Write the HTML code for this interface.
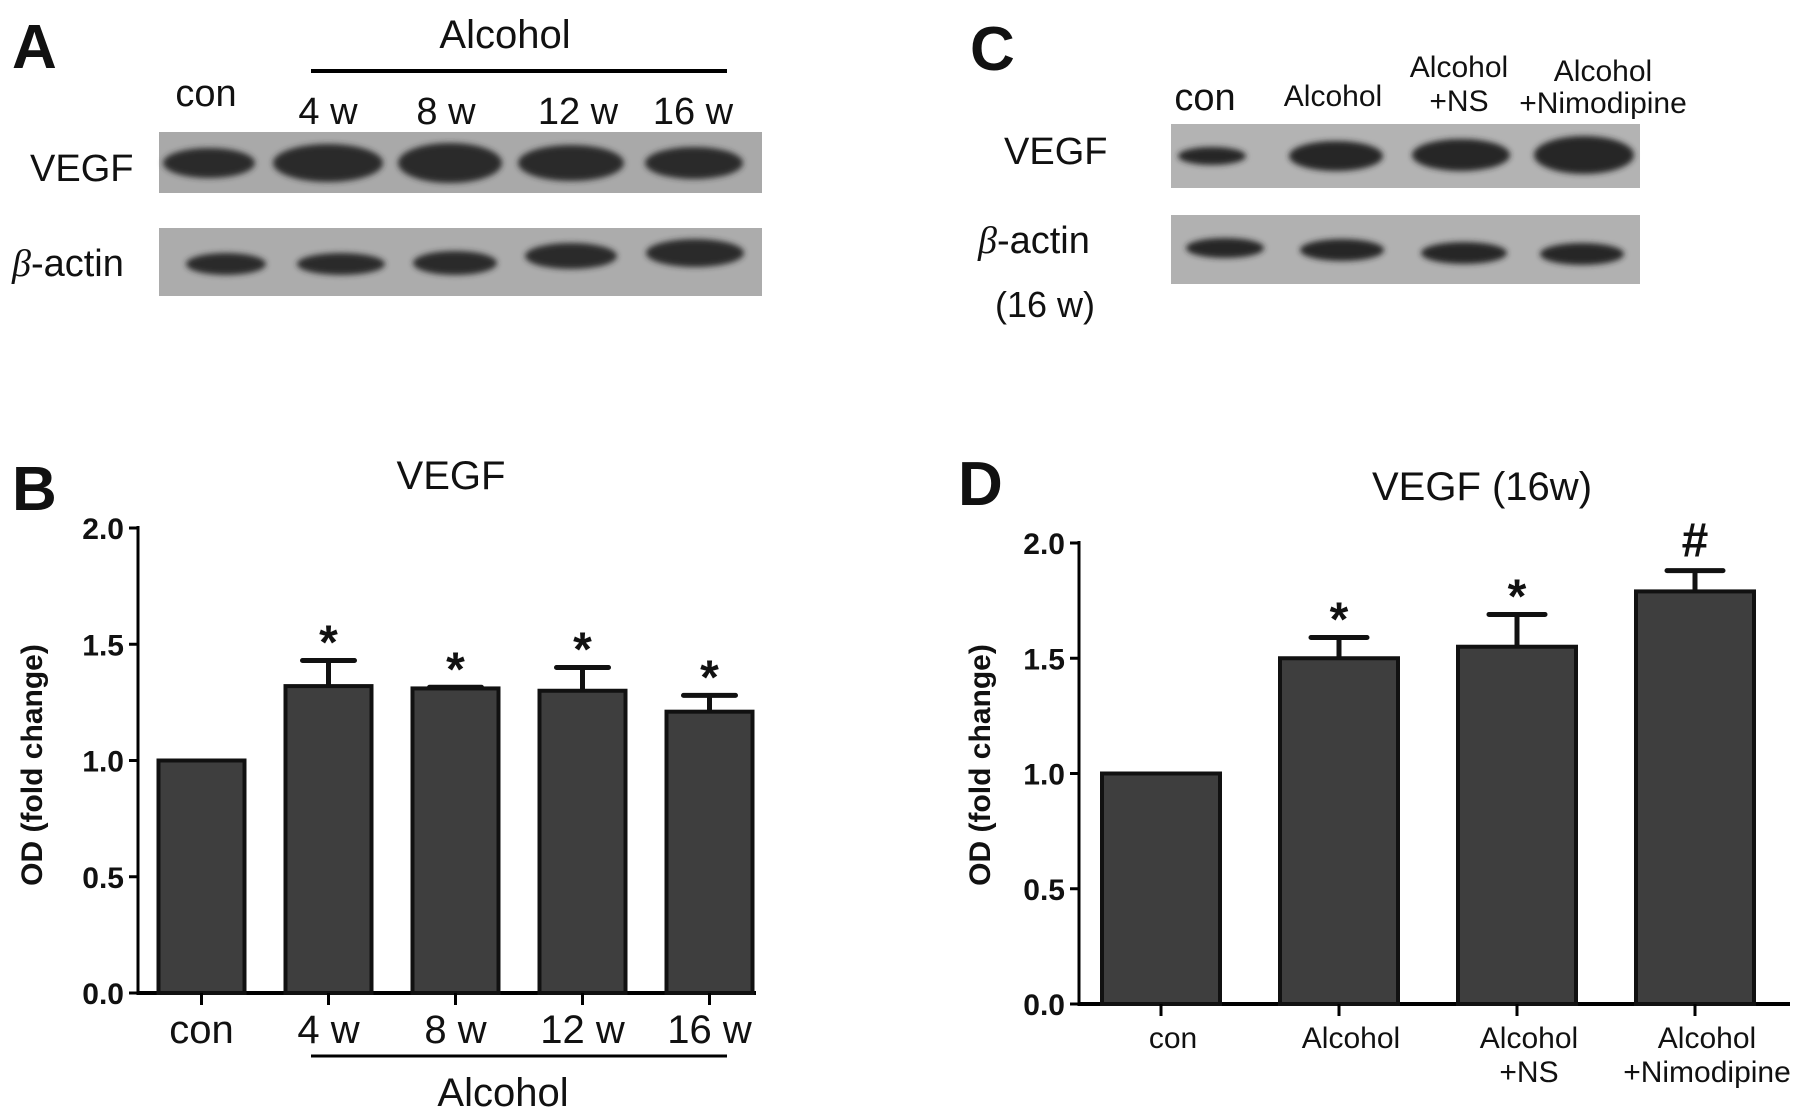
<!DOCTYPE html>
<html><head><meta charset="utf-8"><style>
html,body{margin:0;padding:0;background:#fff;}
svg{display:block;}
text{font-family:"Liberation Sans Narrow","Liberation Sans",sans-serif;fill:#111;}
.b{font-family:"Liberation Sans",sans-serif;font-weight:bold;}
</style></head><body>
<svg id="fig" width="1795" height="1117" viewBox="0 0 1795 1117" xmlns="http://www.w3.org/2000/svg">
<defs>
<filter id="blur" x="-20%" y="-50%" width="140%" height="200%"><feGaussianBlur stdDeviation="3"/></filter>
</defs>
<g>
<text class="b" x="12" y="68" font-size="62">A</text>
<text x="505" y="48" font-size="40" text-anchor="middle">Alcohol</text>
<line x1="311" y1="71" x2="727" y2="71" stroke="#000" stroke-width="4"/>
<text x="206" y="106" font-size="38" text-anchor="middle">con</text>
<text x="328" y="124" font-size="38" text-anchor="middle">4 w</text>
<text x="446" y="124" font-size="38" text-anchor="middle">8 w</text>
<text x="578" y="124" font-size="38" text-anchor="middle">12 w</text>
<text x="693" y="124" font-size="38" text-anchor="middle">16 w</text>
<text x="30" y="181" font-size="38">VEGF</text>
<text x="12" y="276" font-size="38"><tspan font-style="italic" font-family="Liberation Serif,serif">β</tspan>-actin</text>
<rect x="159" y="132" width="603" height="61" fill="#a9a9a9"/>
<rect x="159" y="228" width="603" height="68" fill="#acacac"/>
<g filter="url(#blur)" fill="#2a2a2a">
<ellipse cx="209" cy="163" rx="46" ry="15"/>
<ellipse cx="328" cy="163" rx="55" ry="19"/>
<ellipse cx="450" cy="163" rx="52" ry="20"/>
<ellipse cx="571" cy="163" rx="53" ry="18"/>
<ellipse cx="694" cy="163" rx="49" ry="16"/>
<ellipse cx="226" cy="264" rx="40" ry="11"/>
<ellipse cx="341" cy="264" rx="44" ry="11"/>
<ellipse cx="455" cy="263" rx="42" ry="12"/>
<ellipse cx="571" cy="256" rx="46" ry="13"/>
<ellipse cx="695" cy="253" rx="49" ry="14"/>
</g>
</g>
<g>
<text class="b" x="970" y="70" font-size="62">C</text>
<text x="1205" y="110" font-size="38" text-anchor="middle">con</text>
<text x="1333" y="106" font-size="30" text-anchor="middle">Alcohol</text>
<text x="1459" y="77" font-size="30" text-anchor="middle">Alcohol<tspan x="1459" dy="34">+NS</tspan></text>
<text x="1603" y="81" font-size="30" text-anchor="middle">Alcohol<tspan x="1603" dy="32">+Nimodipine</tspan></text>
<text x="1004" y="164" font-size="38">VEGF</text>
<text x="978" y="253" font-size="38"><tspan font-style="italic" font-family="Liberation Serif,serif">β</tspan>-actin</text>
<text x="995" y="317" font-size="36">(16 w)</text>
<rect x="1171" y="124" width="469" height="64" fill="#b3b3b3"/>
<rect x="1171" y="215" width="469" height="69" fill="#b1b1b1"/>
<g filter="url(#blur)" fill="#252525">
<ellipse cx="1212" cy="156" rx="34" ry="9"/>
<ellipse cx="1336" cy="156" rx="47" ry="15"/>
<ellipse cx="1461" cy="155" rx="49" ry="16"/>
<ellipse cx="1584" cy="155" rx="50" ry="19"/>
<ellipse cx="1225" cy="248" rx="39" ry="10"/>
<ellipse cx="1342" cy="250" rx="42" ry="11"/>
<ellipse cx="1464" cy="253" rx="43" ry="11"/>
<ellipse cx="1582" cy="254" rx="42" ry="11"/>
</g>
</g>
<g id="chartB"></g>
<g id="chartD"></g>
</svg>
<script>
const catsB = ["con","4 w","8 w","12 w","16 w"];
const valsB = [1.0, 1.32, 1.31, 1.30, 1.21];
const errB = [0, 0.11, 0.005, 0.10, 0.07];
const sigB = ["", "*", "*", "*", "*"];
const catsD = [["con"],["Alcohol"],["Alcohol","+NS"],["Alcohol","+Nimodipine"]];
const valsD = [1.0, 1.50, 1.55, 1.79];
const errD = [0, 0.09, 0.14, 0.09];
const sigD = ["", "*", "*", "#"];
const yTicks = ["0.0","0.5","1.0","1.5","2.0"];

const NS = "http://www.w3.org/2000/svg";
function mk(tag, attrs, parent){
  const e = document.createElementNS(NS, tag);
  for (const k in attrs) e.setAttribute(k, attrs[k]);
  parent.appendChild(e);
  return e;
}
function drawChart(g, cfg, cats, vals, errs, sigs){
  const y = v => cfg.y0 + (cfg.y2 - cfg.y0) * v / 2;
  const x = i => cfg.x0 + cfg.first + i * cfg.step;
  const ya = mk('line', {x1:cfg.axX, y1:cfg.y2-2, x2:cfg.axX, y2:cfg.y0+2, stroke:'#000','stroke-width':3}, g);
  
  
  const xa = mk('line', {x1:cfg.axX, y1:cfg.y0, x2:cfg.xEnd, y2:cfg.y0, stroke:'#000','stroke-width':4}, g);
  
  
  yTicks.forEach((t) => {
    const v = parseFloat(t);
    const tk = mk('line', {x1:cfg.axX-9, y1:y(v), x2:cfg.axX, y2:y(v), stroke:'#000','stroke-width':3}, g);
    
    
    const tl = mk('text', {x:cfg.axX-14, y:y(v)+11, 'font-size':30, 'text-anchor':'end', class:'b'}, g);
    
    
    tl.textContent = t;
  });
  cats.forEach((c, i) => {
    const cx = x(i);
    const top = y(vals[i]);
    if (errs[i] > 0) {
      const et = y(vals[i] + errs[i]);
      const el = mk('path', {d:`M${cx} ${top} V${et} M${cx-cfg.cap} ${et} H${cx+cfg.cap}`, stroke:'#111','stroke-width':5,fill:'none','stroke-linecap':'round'}, g);
      
      
    }
    const r = mk('rect', {x:cx-cfg.bw/2, y:top, width:cfg.bw, height:cfg.y0-top, fill:'#3e3e3e', stroke:'#111', 'stroke-width':4}, g);
    
    
    const tk = mk('line', {x1:cx, y1:cfg.y0, x2:cx, y2:cfg.y0+12, stroke:'#000','stroke-width':3}, g);
    
    
    if (sigs[i]) {
      const s = mk('text', {x:cx, y:y(vals[i] + errs[i]) - cfg.sigGap + (sigs[i]==='*'?12:0), 'font-size':cfg.sigSize, 'text-anchor':'middle', class:'b'}, g);
      
      
      s.textContent = sigs[i];
    }
    const lines = Array.isArray(c) ? c : [c];
    const tl = mk('text', {x:cx + cfg.labDx, y:cfg.y0 + cfg.labY, 'font-size':cfg.labSize, 'text-anchor':'middle'}, g);
    
    
    lines.forEach((ln, j) => {
      const ts = mk('tspan', {x:cx + cfg.labDx, dy: j ? cfg.labLH : 0}, tl);
      ts.textContent = ln;
    });
  });
}
const gB = document.getElementById('chartB');
const gD = document.getElementById('chartD');
drawChart(gB, {axX:138, y0:993, y2:528, xEnd:756, x0:138, first:63.5, step:127, bw:86, cap:26, sigGap:14, sigSize:48, labDx:0, labY:50, labSize:40, labLH:0}, catsB, valsB, errB, sigB);
drawChart(gD, {axX:1079, y0:1004, y2:543, xEnd:1790, x0:1079, first:82, step:178, bw:118, cap:28, sigGap:14, sigSize:48, labDx:12, labY:44, labSize:30, labLH:34}, catsD, valsD, errD, sigD);

function txt(g, attrs, content, name){
  const t = mk('text', attrs, g);
  
  
  t.textContent = content;
  return t;
}
txt(gB, {x:12, y:510, 'font-size':62, class:'b'}, 'B', 'panel-b-letter');
txt(gB, {x:451, y:489, 'font-size':40, 'text-anchor':'middle'}, 'VEGF', 'chart-b-title');
txt(gB, {x:42, y:765, 'font-size':30, 'text-anchor':'middle', class:'b', transform:'rotate(-90 42 765)'}, 'OD (fold change)', 'y-axis-title-b');
const lb = mk('line', {x1:311, y1:1056, x2:727, y2:1056, stroke:'#000','stroke-width':3}, gB);


txt(gB, {x:503, y:1106, 'font-size':40, 'text-anchor':'middle'}, 'Alcohol', 'alcohol-group-label-b');
txt(gD, {x:958, y:505, 'font-size':62, class:'b'}, 'D', 'panel-d-letter');
txt(gD, {x:1482, y:500, 'font-size':40, 'text-anchor':'middle'}, 'VEGF (16w)', 'chart-d-title');
txt(gD, {x:990, y:765, 'font-size':30, 'text-anchor':'middle', class:'b', transform:'rotate(-90 990 765)'}, 'OD (fold change)', 'y-axis-title-d');
</script>
</body></html>
